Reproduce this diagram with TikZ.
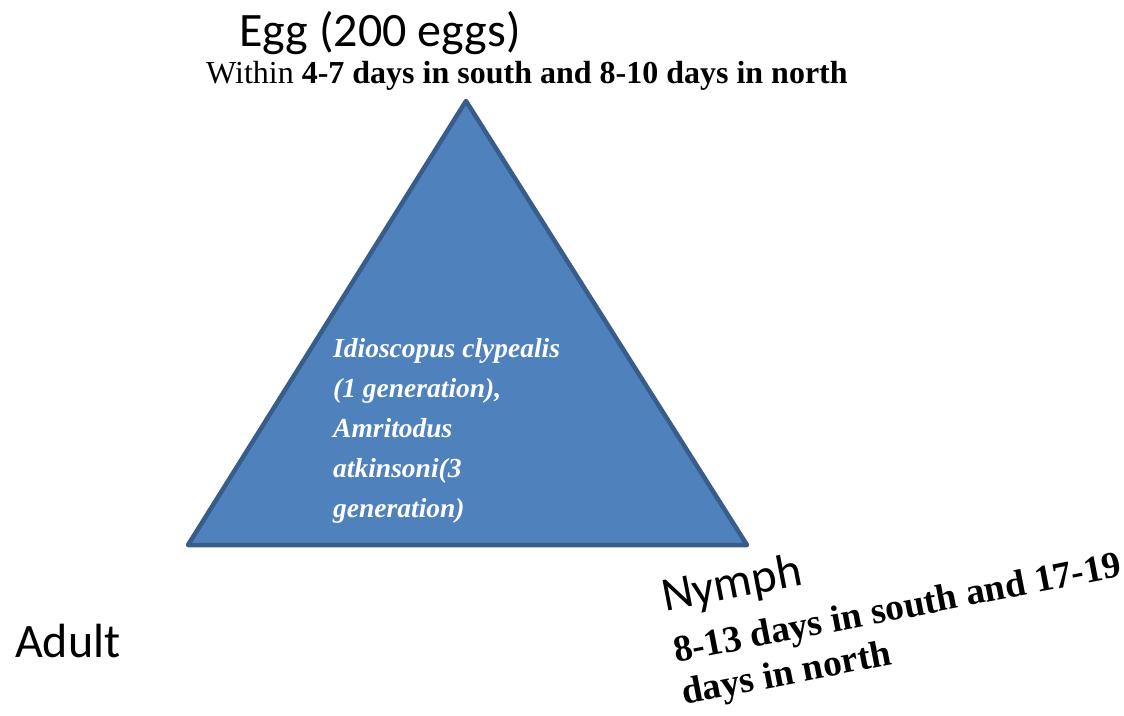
\documentclass[tikz,border=0pt]{standalone}
\usepackage{fontspec}
\setmainfont{Liberation Serif}
\newfontfamily\calibri{Carlito}
\usepackage{tikz}
\definecolor{triblue}{HTML}{4F81BD}
\definecolor{triedge}{HTML}{385D8A}

\begin{document}
\begin{tikzpicture}[x=1pt,y=-1pt,
	stage/.style={inner sep=0pt,font=\calibri\fontsize{48}{58}\selectfont},
	period/.style={inner sep=0pt,align=left,font=\bfseries\fontsize{37.5}{43}\selectfont}]
\useasboundingbox (0,0) rectangle (1124,715);
\coordinate (top) at (466,101);
\coordinate (left) at (188,545);
\coordinate (right) at (747,545);
\draw [fill=triblue,draw=triedge,line width=4.5pt,line join=round] (top) -- (left) -- (right) -- cycle;
\node [stage,anchor=base] (egg) at (380,46) {Egg (200 eggs)};
\node [inner sep=0pt,anchor=base,font=\fontsize{32}{36}\selectfont] (eggtime) at (527,83) {Within \textbf{4-7 days in south and 8-10 days in north}};
% last line sets the base
\node [inner sep=0pt,anchor=base west,align=left,text=white,font=\bfseries\itshape\fontsize{27.5}{40}\selectfont] (species) at (333,517)
	{Idioscopus clypealis\\(1 generation),\\Amritodus\\atkinsoni(3\\generation)};
\node [stage,anchor=base west] (adult) at (15,657) {Adult};
\node [stage,anchor=base west,rotate=11] (nymph) at (665,612) {Nymph};
\node [period,anchor=base west,rotate=11] (nymphtime) at (684,705) {8-13 days in south and 17-19\\days in north};
\end{tikzpicture}
\end{document}
